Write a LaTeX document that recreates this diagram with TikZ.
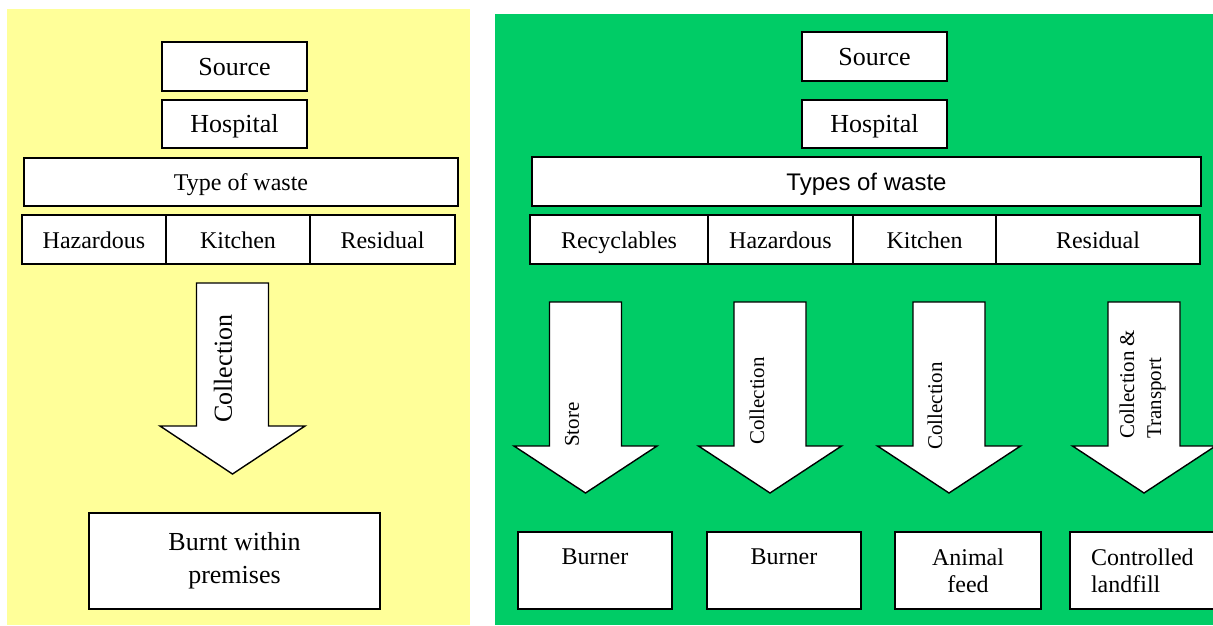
\documentclass[tikz,border=0pt]{standalone}
\usepackage{fontspec}
\setmainfont{Liberation Serif}
\newfontfamily\arialfont{Liberation Sans}
\usepackage{tikz}

\definecolor{paleyellow}{HTML}{FFFF99}
\definecolor{leafgreen}{HTML}{00CC66}
\newcommand{\bigtext}{\fontsize{26pt}{33pt}\selectfont}
\newcommand{\midtext}{\fontsize{24pt}{27pt}\selectfont}
\newcommand{\smalltext}{\fontsize{21pt}{27pt}\selectfont}

\tikzset{
	wastebox/.style={draw, line width=1.8pt, fill=white, inner sep=0pt, align=center},
	linebox/.style={wastebox, text height=17pt, text depth=0pt},
	blockarrow/.style={draw, line width=1.4pt, fill=white, line join=miter},
	arrowlabel/.style={rotate=90, anchor=west, inner sep=0pt, align=left}
}

\begin{document}
\begin{tikzpicture}[x=1pt, y=-1pt]
	\clip (0,0) rectangle (1213,625);
	\fill[paleyellow] (7,9) rectangle (470,625);
	\fill[leafgreen] (495,14) rectangle (1213,625);

	% left panel
	\node (srcL) at (234.5,66.5) [linebox, font=\bigtext,
		minimum width=145pt, minimum height=49pt] {Source};
	\node (hospL) at (234.5,124) [linebox, font=\bigtext,
		minimum width=145pt, minimum height=48pt] {Hospital};
	\node (typeL) at (241,182) [linebox, font=\midtext,
		minimum width=434pt, minimum height=48pt] {Type of waste};
	\node (hazL) at (94,239.5) [linebox, font=\midtext,
		minimum width=144pt, minimum height=49pt] {Hazardous};
	\node (kitL) at (238,239.5) [linebox, font=\midtext,
		minimum width=144pt, minimum height=49pt] {Kitchen};
	\node (resL) at (382.5,239.5) [linebox, font=\midtext,
		minimum width=145pt, minimum height=49pt] {Residual};
	\draw[blockarrow] (196.5,283) -- (268.5,283) -- (268.5,426) -- (305,426)
		-- (232.5,474) -- (160,426) -- (196.5,426) -- cycle;
	\node (collL) at (223,423) [arrowlabel, font=\bigtext] {Collection};
	\node (burnL) at (234.5,561) [wastebox, font=\bigtext,
		minimum width=291pt, minimum height=96pt] {Burnt within\\premises};

	% right panel
	\node (srcR) at (874.5,56.5) [linebox, font=\bigtext,
		minimum width=145pt, minimum height=49pt] {Source};
	\node (hospR) at (874.5,124) [linebox, font=\bigtext,
		minimum width=145pt, minimum height=48pt] {Hospital};
	\node (typeR) at (866.5,181.5) [linebox, font=\arialfont\midtext,
		minimum width=669pt, minimum height=49pt] {Types of waste};
	\node (recR) at (619,239.5) [linebox, font=\midtext,
		minimum width=178pt, minimum height=49pt] {Recyclables};
	\node (hazR) at (780.5,239.5) [linebox, font=\midtext,
		minimum width=145pt, minimum height=49pt] {Hazardous};
	\node (kitR) at (924.5,239.5) [linebox, font=\midtext,
		minimum width=143pt, minimum height=49pt] {Kitchen};
	\node (resR) at (1098,239.5) [linebox, font=\midtext,
		minimum width=204pt, minimum height=49pt] {Residual};

	\draw[blockarrow] (549.5,302) -- (621.5,302) -- (621.5,446) -- (657,446)
		-- (585.5,493) -- (514,446) -- (549.5,446) -- cycle;
	\draw[blockarrow] (734,302) -- (806,302) -- (806,446) -- (841.5,446)
		-- (770,493) -- (698.5,446) -- (734,446) -- cycle;
	\draw[blockarrow] (913,302) -- (985,302) -- (985,446) -- (1020.5,446)
		-- (949,493) -- (877.5,446) -- (913,446) -- cycle;
	\draw[blockarrow] (1108,302) -- (1180,302) -- (1180,446) -- (1215.5,446)
		-- (1144,493) -- (1072.5,446) -- (1108,446) -- cycle;
	\node (storeR) at (572,447) [arrowlabel, font=\smalltext] {Store};
	\node (collHaz) at (757,445) [arrowlabel, font=\smalltext] {Collection};
	\node (collKit) at (935,450) [arrowlabel, font=\smalltext] {Collection};
	\node (collRes) at (1142.5,439) [arrowlabel, font=\smalltext] {Collection \&\\Transport};

	\node (burnRec) at (595,570.5) [wastebox, font=\midtext,
		minimum width=154pt, minimum height=77pt] {Burner\\\mbox{}};
	\node (burnHaz) at (784,570.5) [wastebox, font=\midtext,
		minimum width=154pt, minimum height=77pt] {Burner\\\mbox{}};
	\node (feedKit) at (968,570.5) [wastebox, font=\midtext,
		minimum width=146pt, minimum height=77pt] {Animal\\feed};
	\node (fillRes) at (1147,570.5) [wastebox, font=\midtext, align=left, text width=112pt,
		minimum width=154pt, minimum height=77pt] {Controlled\\landfill};
\end{tikzpicture}
\end{document}
